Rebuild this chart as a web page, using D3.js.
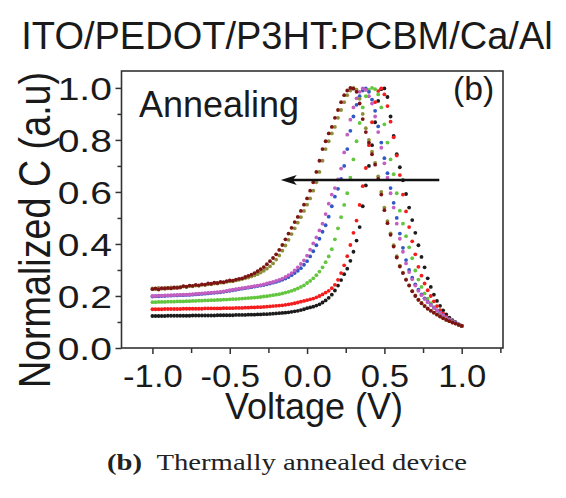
<!DOCTYPE html>
<html><head><meta charset="utf-8">
<script src="https://cdn.jsdelivr.net/npm/d3@7"></script>
<style>
body{margin:0;background:#fff}
text{font-family:"Liberation Sans",Arial,Helvetica,sans-serif;fill:#1a1a1a}
</style>
</head><body>
<svg id="chart" width="566" height="498"></svg>
<script>
const voltage = [-1,-0.98,-0.96,-0.94,-0.92,-0.9,-0.88,-0.86,-0.84,-0.82,
-0.8,-0.78,-0.76,-0.74,-0.72,-0.7,-0.68,-0.66,-0.64,-0.62,
-0.6,-0.58,-0.56,-0.54,-0.52,-0.5,-0.48,-0.46,-0.44,-0.42,
-0.4,-0.38,-0.36,-0.34,-0.32,-0.3,-0.28,-0.26,-0.24,-0.22,
-0.2,-0.18,-0.16,-0.14,-0.12,-0.1,-0.08,-0.06,-0.04,-0.02,
0,0.02,0.04,0.06,0.08,0.1,0.12,0.14,0.16,0.18,
0.2,0.22,0.24,0.26,0.28,0.3,0.32,0.34,0.36,0.38,
0.4,0.42,0.44,0.46,0.48,0.5,0.52,0.54,0.56,0.58,
0.6,0.62,0.64,0.66,0.68,0.7,0.72,0.74,0.76,0.78,
0.8,0.82,0.84,0.86,0.88,0.9,0.92,0.94,0.96,0.98,
1];

const cBlack = [0.123,0.123,0.123,0.123,0.123,0.124,0.124,0.124,0.124,0.124,
0.124,0.124,0.124,0.125,0.125,0.125,0.125,0.125,0.125,0.125,
0.125,0.126,0.126,0.126,0.126,0.126,0.126,0.127,0.127,0.127,
0.127,0.128,0.128,0.128,0.129,0.129,0.130,0.130,0.131,0.132,
0.133,0.134,0.135,0.136,0.137,0.139,0.141,0.143,0.146,0.149,
0.153,0.156,0.159,0.163,0.168,0.175,0.183,0.193,0.205,0.221,
0.240,0.261,0.284,0.305,0.335,0.370,0.413,0.465,0.545,0.625,
0.700,0.780,0.868,0.950,0.995,0.998,0.965,0.890,0.815,0.745,
0.695,0.645,0.592,0.540,0.492,0.443,0.395,0.350,0.310,0.268,
0.235,0.205,0.181,0.162,0.145,0.129,0.117,0.107,0.099,0.091,
0.085];

const cRed = [0.149,0.149,0.149,0.149,0.150,0.150,0.150,0.150,0.150,0.150,
0.151,0.151,0.151,0.151,0.151,0.151,0.151,0.152,0.152,0.152,
0.152,0.152,0.152,0.153,0.153,0.153,0.153,0.154,0.154,0.154,
0.155,0.155,0.156,0.156,0.157,0.157,0.158,0.159,0.160,0.161,
0.162,0.163,0.164,0.166,0.168,0.170,0.172,0.175,0.178,0.181,
0.184,0.187,0.190,0.195,0.200,0.206,0.213,0.220,0.230,0.243,
0.262,0.288,0.318,0.353,0.396,0.443,0.490,0.550,0.622,0.692,
0.780,0.868,0.945,0.988,0.998,0.975,0.930,0.870,0.810,0.740,
0.665,0.590,0.525,0.465,0.410,0.360,0.312,0.278,0.248,0.222,
0.200,0.179,0.161,0.146,0.133,0.121,0.111,0.103,0.096,0.090,
0.085];

const cGreen = [0.176,0.176,0.177,0.177,0.177,0.178,0.178,0.178,0.179,0.179,
0.179,0.180,0.180,0.181,0.181,0.182,0.182,0.183,0.183,0.184,
0.184,0.185,0.185,0.186,0.186,0.187,0.188,0.188,0.189,0.190,
0.191,0.192,0.193,0.194,0.195,0.196,0.198,0.199,0.201,0.203,
0.205,0.207,0.210,0.213,0.216,0.220,0.224,0.229,0.235,0.241,
0.250,0.258,0.268,0.280,0.294,0.310,0.330,0.352,0.380,0.418,
0.460,0.503,0.550,0.595,0.655,0.725,0.795,0.865,0.925,0.968,
0.992,1.000,0.995,0.975,0.925,0.860,0.790,0.725,0.668,0.595,
0.528,0.478,0.430,0.387,0.345,0.298,0.263,0.235,0.210,0.190,
0.172,0.157,0.145,0.134,0.124,0.116,0.108,0.102,0.096,0.090,
0.086];

const cBlue = [0.198,0.199,0.199,0.200,0.200,0.201,0.201,0.202,0.202,0.203,
0.203,0.204,0.204,0.205,0.206,0.207,0.208,0.209,0.210,0.211,
0.212,0.213,0.214,0.216,0.218,0.220,0.222,0.224,0.226,0.228,
0.230,0.232,0.234,0.236,0.238,0.240,0.242,0.245,0.248,0.251,
0.254,0.258,0.262,0.267,0.273,0.280,0.288,0.297,0.307,0.320,
0.334,0.352,0.372,0.395,0.420,0.447,0.472,0.505,0.545,0.582,
0.612,0.650,0.700,0.765,0.835,0.890,0.935,0.968,0.990,0.998,
0.985,0.955,0.912,0.852,0.790,0.730,0.672,0.615,0.558,0.500,
0.440,0.385,0.338,0.300,0.270,0.245,0.224,0.206,0.191,0.178,
0.166,0.155,0.145,0.135,0.126,0.117,0.110,0.103,0.097,0.091,
0.086];

const cMagenta = [0.200,0.200,0.201,0.201,0.202,0.202,0.203,0.203,0.204,0.204,
0.205,0.205,0.206,0.207,0.208,0.209,0.210,0.211,0.212,0.213,
0.214,0.215,0.216,0.218,0.220,0.222,0.224,0.226,0.228,0.230,
0.232,0.234,0.236,0.238,0.240,0.242,0.245,0.248,0.251,0.254,
0.258,0.262,0.267,0.273,0.280,0.288,0.298,0.310,0.323,0.337,
0.355,0.378,0.402,0.425,0.452,0.478,0.515,0.555,0.590,0.615,
0.648,0.690,0.752,0.820,0.878,0.925,0.960,0.985,0.998,0.992,
0.968,0.940,0.890,0.830,0.770,0.710,0.655,0.595,0.540,0.478,
0.420,0.370,0.325,0.292,0.264,0.240,0.220,0.203,0.188,0.176,
0.165,0.154,0.144,0.134,0.125,0.116,0.109,0.102,0.096,0.091,
0.086];

const cOlive = [0.229,0.226,0.231,0.228,0.232,0.229,0.233,0.230,0.234,0.232,
0.236,0.234,0.238,0.237,0.240,0.239,0.243,0.242,0.245,0.245,
0.248,0.248,0.251,0.251,0.254,0.256,0.257,0.260,0.262,0.265,
0.268,0.271,0.275,0.279,0.284,0.290,0.297,0.305,0.314,0.325,
0.340,0.356,0.374,0.394,0.416,0.438,0.460,0.482,0.503,0.527,
0.551,0.575,0.605,0.637,0.677,0.720,0.765,0.795,0.825,0.850,
0.885,0.915,0.945,0.972,0.990,1.000,0.993,0.958,0.900,0.845,
0.800,0.755,0.712,0.660,0.600,0.540,0.488,0.441,0.395,0.353,
0.317,0.290,0.264,0.242,0.220,0.202,0.186,0.173,0.162,0.152,
0.144,0.136,0.129,0.122,0.115,0.109,0.103,0.098,0.094,0.089,
0.085];

const cMaroon = [0.226,0.229,0.225,0.230,0.228,0.231,0.229,0.233,0.231,0.234,
0.238,0.236,0.240,0.239,0.243,0.241,0.245,0.244,0.248,0.247,
0.251,0.250,0.254,0.253,0.257,0.260,0.259,0.263,0.266,0.268,
0.273,0.277,0.282,0.288,0.295,0.303,0.311,0.322,0.334,0.346,
0.360,0.377,0.396,0.418,0.440,0.462,0.484,0.504,0.527,0.551,
0.575,0.605,0.637,0.677,0.720,0.765,0.795,0.825,0.850,0.885,
0.915,0.945,0.972,0.990,1.000,0.997,0.985,0.940,0.880,0.830,
0.790,0.745,0.705,0.650,0.590,0.530,0.480,0.435,0.390,0.348,
0.313,0.288,0.262,0.240,0.218,0.200,0.185,0.172,0.161,0.151,
0.143,0.136,0.128,0.121,0.114,0.108,0.103,0.098,0.094,0.089,
0.085];

const seriesNames = ["black","red","green","blue","magenta","olive","maroon"];
const seriesValues = [cBlack,cRed,cGreen,cBlue,cMagenta,cOlive,cMaroon];
const seriesColors = ["#1c1c1c","#f41c1c","#62c63e","#3158c4","#c45ec0","#8e8e3a","#7c1414"];

const xMajorTicks = [-1.0,-0.5,0.0,0.5,1.0];
const xMinorTicks = [-0.75,-0.25,0.25,0.75,1.25];
const yMajorTicks = [0.0,0.2,0.4,0.6,0.8,1.0];
const yMinorTicks = [0.1,0.3,0.5,0.7,0.9];

const titleText = "ITO/PEDOT/P3HT:PCBM/Ca/Al";
const xLabel = "Voltage (V)";
const yLabel = "Normalized C (a.u)";
const insideText = "Annealing";
const panelText = "(b)";
const captionBold = "(b)";
const captionText = "Thermally annealed device";
const arrowFrom = [0.855, 0.646];
const arrowTo = [-0.17, 0.646];

const svg = d3.select("#chart");
const L = 121.5, R = 503, T = 71, B = 348;
const x = d3.scaleLinear().domain([-1.2, 1.267]).range([L, R]);
const y = d3.scaleLinear().domain([0, 1.065]).range([B, T]);

// title
svg.append("text").attr("x", 287).attr("y", 49).attr("text-anchor","middle")
  .style("font-size","38px").text(titleText);

// data dots
const plot = svg.append("g");
seriesValues.forEach((vals, si) => {
  plot.append("g").attr("fill", seriesColors[si])
    .selectAll("circle").data(vals).join("circle")
    .attr("cx", (d,i) => x(voltage[i]))
    .attr("cy", d => y(d))
    .attr("r", 1.9);
});

// frame
svg.append("rect").attr("x", L).attr("y", T).attr("width", R-L).attr("height", B-T)
  .attr("fill","none").attr("stroke","#333").attr("stroke-width",1.6);

// axes
const fmt = d => d.toFixed(1);
const xAx = svg.append("g").attr("transform",`translate(0,${B})`)
  .call(d3.axisBottom(x).tickValues(xMajorTicks).tickSize(6).tickFormat(fmt));
svg.append("g").attr("transform",`translate(0,${B})`)
  .call(d3.axisBottom(x).tickValues(xMinorTicks).tickSize(5).tickFormat(""));
const yAx = svg.append("g").attr("transform",`translate(${L},0)`)
  .call(d3.axisLeft(y).tickValues(yMajorTicks).tickSize(6).tickFormat(fmt));
svg.append("g").attr("transform",`translate(${L},0)`)
  .call(d3.axisLeft(y).tickValues(yMinorTicks).tickSize(4).tickFormat(""));
svg.selectAll(".domain").remove();
svg.selectAll(".tick line").attr("stroke","#333").attr("stroke-width",1.5);
xAx.selectAll(".tick text").attr("y", 39).attr("dy", 0)
  .style("font-size","31.5px").style("font-family",'"Liberation Sans",Arial,sans-serif')
  .attr("fill","#1a1a1a").attr("transform","scale(1.1,1)");
yAx.selectAll(".tick text").attr("x", -7.6).attr("dy", "0.36em")
  .style("font-size","31px").style("font-family",'"Liberation Sans",Arial,sans-serif')
  .attr("fill","#1a1a1a").attr("transform","scale(1.26,1)");

// axis titles
svg.append("text").attr("x", 314).attr("y", 419).attr("text-anchor","middle")
  .style("font-size","36px").text(xLabel);
svg.append("text").attr("text-anchor","middle")
  .attr("transform","translate(50,230) rotate(-90) scale(1,1.2)")
  .style("font-size","37.7px").text(yLabel);

// annotations
svg.append("text").attr("x", 139).attr("y", 116.5).style("font-size","36px").text(insideText);
svg.append("text").attr("x", 453).attr("y", 99.5).style("font-size","33.7px").text(panelText);

const ax0 = x(arrowFrom[0]), ax1 = x(arrowTo[0]), ay = y(arrowFrom[1]);
svg.append("line").attr("x1", ax0).attr("x2", ax1 + 10).attr("y1", ay).attr("y2", ay)
  .attr("stroke","#111").attr("stroke-width",2.6);
svg.append("path")
  .attr("d", `M${ax1},${ay} L${ax1+16},${ay-5} L${ax1+12},${ay} L${ax1+16},${ay+5} Z`)
  .attr("fill","#111");

// caption
const capG = svg.append("g");
const cap = capG.append("text").attr("x", 0).attr("y", 0).attr("text-anchor","middle")
  .style("font-family",'"Liberation Serif","Times New Roman",serif').style("font-size","24px")
  .style("fill","#222");
cap.append("tspan").style("font-weight","bold").text(captionBold);
cap.append("tspan").text("\u2002" + captionText);
const cw = cap.node().getBBox().width;
capG.attr("transform", `translate(287,470) scale(${360/cw},1)`);
</script>
</body></html>
